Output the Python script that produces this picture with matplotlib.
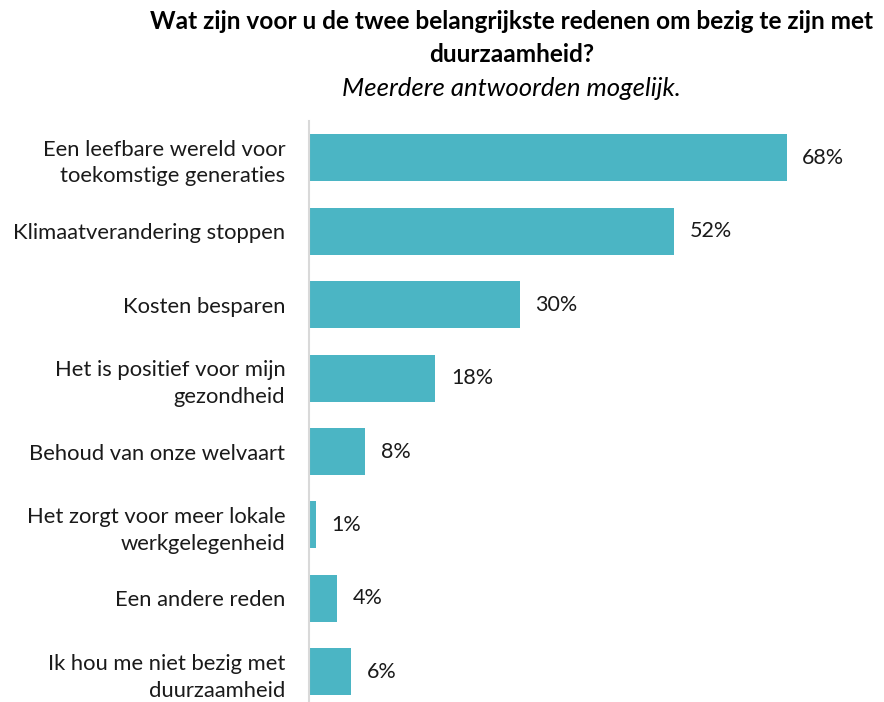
import numpy as np
import matplotlib.pyplot as plt

plt.rcParams['font.family'] = ['Lato', 'DejaVu Sans']

categories = ["Een leefbare wereld voor\ntoekomstige generaties",
              "Klimaatverandering stoppen",
              "Kosten besparen",
              "Het is positief voor mijn\ngezondheid",
              "Behoud van onze welvaart",
              "Het zorgt voor meer lokale\nwerkgelegenheid",
              "Een andere reden",
              "Ik hou me niet bezig met\nduurzaamheid"]
values = [68, 52, 30, 18, 8, 1, 4, 6]

kleur = '#4BB5C4'

fig = plt.figure(figsize=(8.84, 7.02), dpi=100)
ax = fig.add_axes([0.3495, 0.0, 0.636, 0.8276])

y = np.arange(len(values))
ax.barh(y, values, height=0.64, color=kleur)
for i, v in enumerate(values):
    ax.text(v + 2.2, i, f"{v}%", va='center', ha='left', fontsize=15.5, color='#1a1a1a')

ax.set_xlim(0, 80)
ax.set_ylim(7.41, -0.5)
ax.set_yticks(y)
ax.set_yticklabels(categories, fontsize=15.8, color='#1a1a1a', linespacing=1.42)
ax.tick_params(axis='y', length=0, pad=17)
ax.set_xticks([])
for s in ['top', 'right', 'bottom']:
    ax.spines[s].set_visible(False)
ax.spines['left'].set_color('#d9d9d9')
ax.spines['left'].set_linewidth(1.5)

fig.text(0.579, 0.946, "Wat zijn voor u de twee belangrijkste redenen om bezig te zijn met\nduurzaamheid?",
         ha='center', va='center', fontsize=17.6, fontweight='bold', linespacing=1.54)
fig.text(0.579, 0.874, "Meerdere antwoorden mogelijk.", ha='center', va='center',
         fontsize=18.5, style='italic')

plt.savefig('out.png', dpi=100)
